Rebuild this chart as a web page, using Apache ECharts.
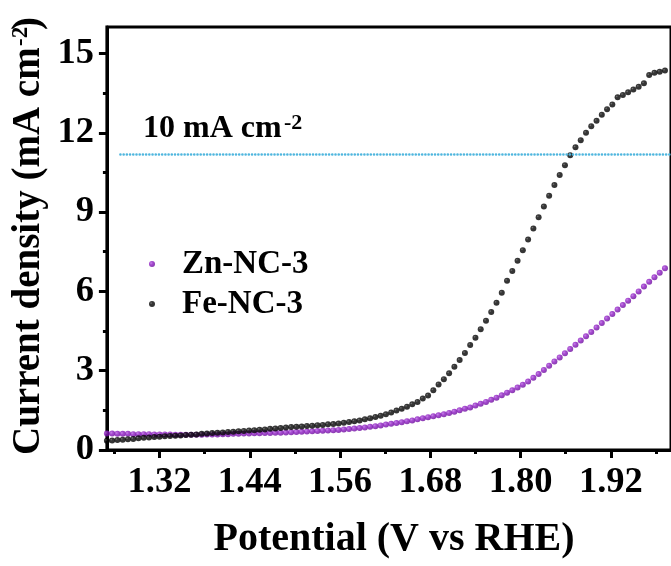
<!DOCTYPE html>
<html>
<head>
<meta charset="utf-8">
<script src="https://cdn.jsdelivr.net/npm/echarts@6/dist/echarts.min.js"></script>
<style>
html,body{margin:0;padding:0;background:#fff;}
#chart{width:671px;height:566px;}
</style>
</head>
<body>
<div id="chart"></div>
<script>
// ---- data ----
const potential = [
1.250,1.257,1.264,1.271,1.278,1.285,1.292,1.299,1.306,1.313,
1.320,1.327,1.334,1.341,1.348,1.355,1.362,1.369,1.376,1.383,
1.390,1.397,1.404,1.411,1.418,1.425,1.432,1.439,1.446,1.453,
1.460,1.467,1.474,1.481,1.488,1.495,1.502,1.509,1.516,1.523,
1.530,1.537,1.544,1.551,1.558,1.565,1.572,1.579,1.586,1.593,
1.600,1.607,1.614,1.621,1.628,1.635,1.642,1.649,1.656,1.663,
1.670,1.677,1.684,1.691,1.698,1.705,1.712,1.719,1.726,1.733,
1.740,1.747,1.754,1.761,1.768,1.775,1.782,1.789,1.796,1.803,
1.810,1.817,1.824,1.831,1.838,1.845,1.852,1.859,1.866,1.873,
1.880,1.887,1.894,1.901,1.908,1.915,1.922,1.929,1.936,1.943,
1.950,1.957,1.964,1.971,1.978,1.985,1.992];

const znNC3 = [
0.62,0.62,0.61,0.61,0.61,0.60,0.60,0.60,0.60,0.59,
0.59,0.59,0.59,0.58,0.58,0.58,0.58,0.58,0.58,0.59,
0.59,0.59,0.60,0.60,0.61,0.61,0.62,0.62,0.63,0.63,
0.64,0.64,0.65,0.65,0.66,0.67,0.68,0.69,0.70,0.71,
0.72,0.73,0.74,0.75,0.76,0.78,0.79,0.81,0.83,0.85,
0.88,0.90,0.93,0.96,0.99,1.02,1.05,1.09,1.12,1.16,
1.20,1.24,1.28,1.31,1.35,1.40,1.45,1.50,1.56,1.61,
1.68,1.75,1.82,1.90,1.98,2.07,2.17,2.26,2.36,2.47,
2.59,2.73,2.87,3.03,3.19,3.35,3.50,3.66,3.82,3.98,
4.14,4.30,4.46,4.63,4.80,4.97,5.14,5.31,5.48,5.65,
5.82,6.00,6.18,6.36,6.53,6.70,6.87];

const feNC3 = [
0.35,0.36,0.38,0.39,0.41,0.42,0.44,0.46,0.47,0.49,
0.50,0.52,0.53,0.54,0.55,0.57,0.58,0.59,0.61,0.62,
0.64,0.65,0.66,0.68,0.69,0.71,0.72,0.74,0.75,0.77,
0.78,0.80,0.81,0.83,0.85,0.87,0.88,0.89,0.91,0.92,
0.94,0.95,0.97,0.98,1.00,1.03,1.06,1.09,1.12,1.16,
1.20,1.25,1.30,1.35,1.42,1.49,1.56,1.64,1.73,1.82,
1.95,2.06,2.26,2.48,2.68,2.90,3.15,3.40,3.67,3.97,
4.25,4.57,4.89,5.22,5.57,5.95,6.40,6.77,7.16,7.56,
7.96,8.38,8.80,9.21,9.62,10.02,10.40,10.77,11.15,11.45,
11.72,12.00,12.25,12.45,12.68,12.89,13.07,13.34,13.43,13.53,
13.64,13.74,13.87,14.18,14.27,14.31,14.35];

const refLineX = [1.268, 2.0];
const refLevel = 11.18;

const xTicks = [1.32, 1.44, 1.56, 1.68, 1.80, 1.92];
const xMinorTicks = [1.26, 1.38, 1.50, 1.62, 1.74, 1.86, 1.98];
const yTicks = [0, 3, 6, 9, 12, 15];
const yMinorTicks = [1.5, 4.5, 7.5, 10.5, 13.5];
const xRange = [1.25, 2.0];
const yRange = [0, 16];

const seriesNames = ['Zn-NC-3', 'Fe-NC-3'];
const xTitle = 'Potential (V vs RHE)';
const yTitleMain = 'Current density (mA cm';
const yTitleSup = '-2';
const yTitleEnd = ')';
const refTextMain = '10 mA cm';
const refTextSup = '-2';

// ---- chart ----
const FONT = 'Liberation Serif';
const gridPos = {left: 106.9, right: -5.3, top: 27, bottom: 116};

const purpleBall = {type:'radial', x:0.35, y:0.35, r:0.7,
  colorStops:[{offset:0,color:'#b766e0'},{offset:0.4,color:'#8f1cc4'},{offset:1,color:'#6a0a9a'}]};
const blackBall = {type:'radial', x:0.35, y:0.35, r:0.7,
  colorStops:[{offset:0,color:'#555'},{offset:0.3,color:'#050505'},{offset:1,color:'#000'}]};

const chart = echarts.init(document.getElementById('chart'), null, {renderer:'canvas'});
chart.setOption({
  animation: false,
  backgroundColor: '#fff',
  grid: [
    Object.assign({show:true, borderColor:'#000', borderWidth:3, containLabel:false}, gridPos),
    Object.assign({show:false, containLabel:false}, gridPos)
  ],
  xAxis: [{
    type:'value', gridIndex:0, min:xRange[0], max:xRange[1], position:'bottom',
    axisLine:{show:true, onZero:false, lineStyle:{color:'#000', width:3}},
    axisTick:{show:true, customValues:xTicks, length:8, inside:false, lineStyle:{color:'#000', width:3}},
    axisLabel:{show:true, customValues:xTicks, formatter:v=>v.toFixed(2), margin:14,
      fontFamily:FONT, fontWeight:'bold', fontSize:36.5, color:'#000'},
    splitLine:{show:false}
  },{
    type:'value', gridIndex:1, min:xRange[0], max:xRange[1], position:'bottom',
    axisLine:{show:false},
    axisTick:{show:true, customValues:xMinorTicks, length:4, lineStyle:{color:'#000', width:3}},
    axisLabel:{show:false}, splitLine:{show:false}
  }],
  yAxis: [{
    type:'value', gridIndex:0, min:yRange[0], max:yRange[1], position:'left',
    axisLine:{show:true, onZero:false, lineStyle:{color:'#000', width:3}},
    axisTick:{show:true, customValues:yTicks, length:8, lineStyle:{color:'#000', width:3}},
    axisLabel:{show:true, customValues:yTicks, margin:13,
      fontFamily:FONT, fontWeight:'bold', fontSize:36.5, color:'#000'},
    splitLine:{show:false}
  },{
    type:'value', gridIndex:1, min:yRange[0], max:yRange[1], position:'left',
    axisLine:{show:false},
    axisTick:{show:true, customValues:yMinorTicks, length:4, lineStyle:{color:'#000', width:3}},
    axisLabel:{show:false}, splitLine:{show:false}
  }],
  legend: {
    data: seriesNames, orient:'vertical', left:144, top:239, itemGap:0,
    itemWidth:6, itemHeight:6, icon:'circle',
    textStyle:{fontFamily:FONT, fontWeight:'bold', fontSize:33, color:'#000', lineHeight:40, padding:[0,0,0,22]}
  },
  series: [{
    name: seriesNames[0], type:'scatter', xAxisIndex:0, yAxisIndex:0,
    symbol:'circle', symbolSize:6, itemStyle:{color:purpleBall},
    data: potential.map((v,i)=>[v, znNC3[i]]), z:2
  },{
    name: seriesNames[1], type:'scatter', xAxisIndex:0, yAxisIndex:0,
    symbol:'circle', symbolSize:6, itemStyle:{color:blackBall},
    data: potential.map((v,i)=>[v, feNC3[i]]), z:3
  },{
    name: 'ref', type:'line', xAxisIndex:0, yAxisIndex:0, showSymbol:false, symbol:'none',
    lineStyle:{color:'#4fb6de', width:2.6, type:[0.01,3.2], cap:'round'},
    data: refLineX.map(v=>[v, refLevel]), z:4, silent:true
  }],
  graphic: [
    {type:'text', x:394, y:540, style:{text:xTitle, fontFamily:FONT, fontWeight:'bold', fontSize:40,
      fill:'#000', align:'center', verticalAlign:'middle'}},
    {type:'text', x:29, y:455, rotation:Math.PI/2, style:{text:yTitleMain, fontFamily:FONT, fontWeight:'bold',
      fontSize:39, fill:'#000', align:'left', verticalAlign:'middle'}},
    {type:'text', x:21.5, y:46, rotation:Math.PI/2, style:{text:yTitleSup, fontFamily:FONT, fontWeight:'bold',
      fontSize:23, fill:'#000', align:'left', verticalAlign:'middle'}},
    {type:'text', x:29, y:30, rotation:Math.PI/2, style:{text:yTitleEnd, fontFamily:FONT, fontWeight:'bold',
      fontSize:39, fill:'#000', align:'left', verticalAlign:'middle'}},
    {type:'text', x:143, y:129, style:{text:refTextMain, fontFamily:FONT, fontWeight:'bold', fontSize:32,
      fill:'#000', align:'left', verticalAlign:'middle'}},
    {type:'text', x:284, y:123, style:{text:refTextSup, fontFamily:FONT, fontWeight:'bold', fontSize:22,
      fill:'#000', align:'left', verticalAlign:'middle'}}
  ]
});
</script>
</body>
</html>
